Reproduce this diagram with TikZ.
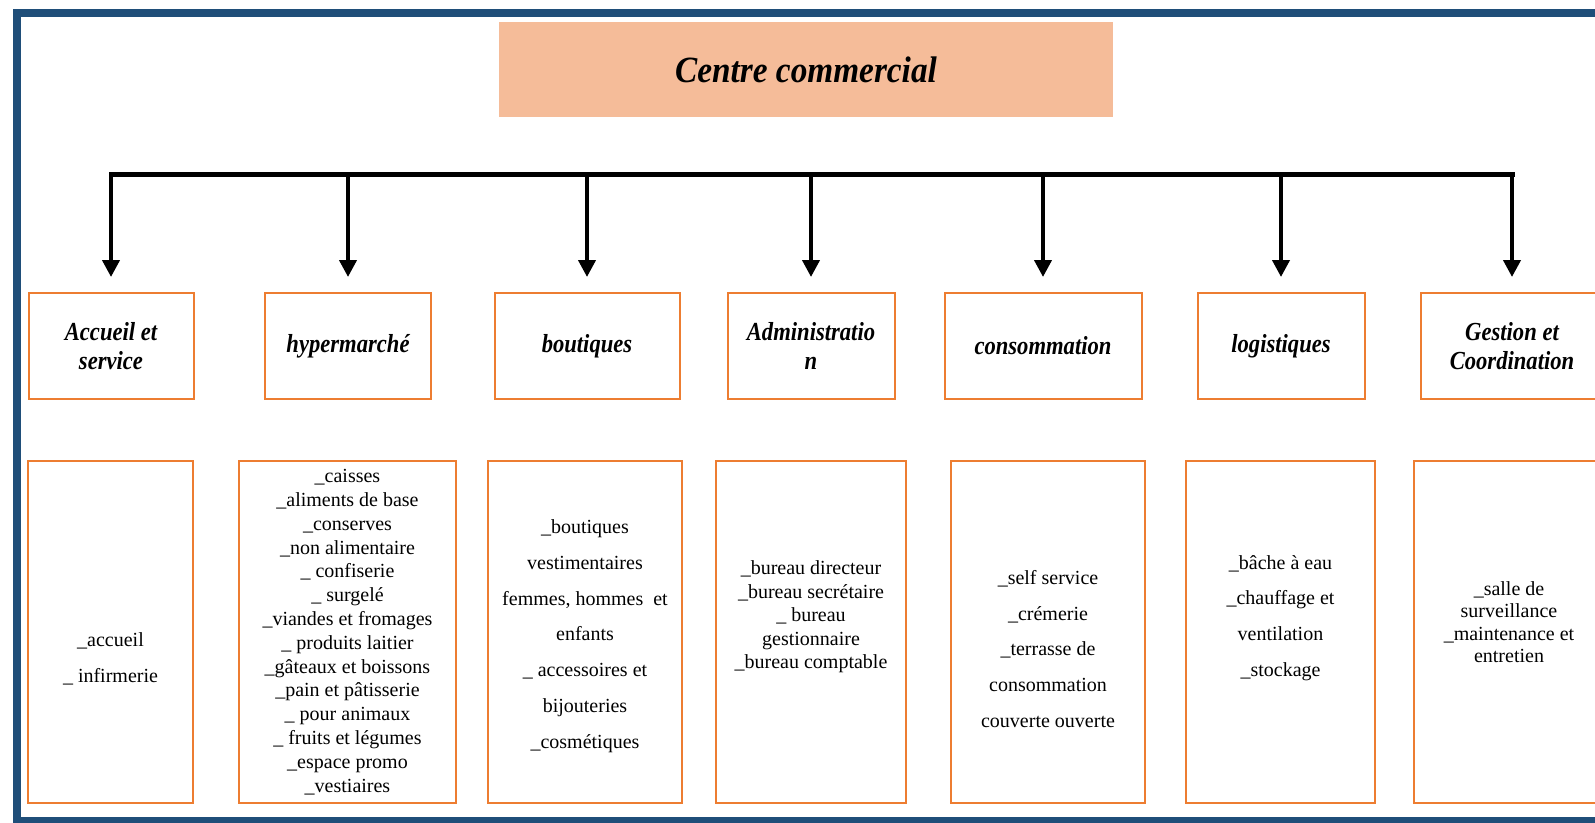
\documentclass[tikz,border=0pt]{standalone}
\usepackage{fontspec}
\setmainfont{Liberation Serif}
\usetikzlibrary{arrows.meta}
\definecolor{cadrebleu}{HTML}{1F4E79}
\definecolor{bordorange}{HTML}{ED7D31}
\definecolor{saumon}{HTML}{F5BC99}

\begin{document}
\begin{tikzpicture}[x=1pt,y=-1pt,
  pole/.style={draw=bordorange,line width=2pt,minimum width=#1,minimum height=106pt,
    inner sep=0pt,align=center,
    font=\fontsize{26}{29}\selectfont\bfseries\itshape\addfontfeature{FakeStretch=0.87}},
  liste/.style={draw=bordorange,line width=2pt,minimum width=#1,minimum height=342pt,inner sep=0pt},
  detail/.style={align=center,inner sep=0pt,font=\fontsize{20}{#1}\selectfont},
  fleche/.style={line width=4pt,shorten >=15pt,-{Triangle[width=17pt,length=17pt]}}]
\useasboundingbox (0,0) rectangle (1595,822);
\clip (0,0) rectangle (1595,822);
% cadre bleu (ouvert a droite)
\draw[cadrebleu,line width=8pt] (1620,13) -- (17,13) -- (17,821) -- (1620,821);
% titre
\node[fill=saumon,minimum width=614pt,minimum height=95pt,inner sep=0pt,
  font=\fontsize{37}{40}\selectfont\bfseries\itshape\addfontfeature{FakeStretch=0.9}]
  (centre) at (806,69.5) {Centre commercial};
% poles
\node[pole=165pt] (acc) at (111,346) {Accueil et\\service};
\node[pole=166pt] (hyp) at (348,346) {hypermarché};
\node[pole=185pt] (bou) at (587,346) {boutiques};
\node[pole=167pt] (adm) at (811,346) {Administratio\\n};
\node[pole=197pt] (con) at (1043,346) {consommation};
\node[pole=167pt] (log) at (1281,346) {logistiques};
\node[pole=182pt] (ges) at (1512,346) {Gestion et\\Coordination};
% barre et fleches
\coordinate (busG) at (111,174);
\coordinate (busD) at (1512,174);
\draw[line width=5pt,line cap=rect] (busG) -- (busD);
\foreach \p in {acc,hyp,bou,adm,con,log,ges}
  \draw[fleche] (busG -| \p.north) -- (\p.north);
% cadres du bas
\node[liste=165pt] (accL) at (110.5,632) {};
\node[liste=217pt] (hypL) at (347.5,632) {};
\node[liste=194pt] (bouL) at (585,632) {};
\node[liste=190pt] (admL) at (811,632) {};
\node[liste=194pt] (conL) at (1048,632) {};
\node[liste=189pt] (logL) at (1280.5,632) {};
\node[liste=196pt] (gesL) at (1512,632) {};
% contenus
\node[detail=36] (accT) at (110.5,659) {\_accueil\\\_ infirmerie};
\node[detail=23.8] (hypT) at (347.5,632) {\_caisses\\\_aliments de base\\\_conserves\\\_non alimentaire\\
  \_ confiserie\\\_ surgelé\\\_viandes et fromages\\\_ produits laitier\\\_gâteaux et boissons\\
  \_pain et pâtisserie\\\_ pour animaux\\\_ fruits et légumes\\\_espace promo\\\_vestiaires};
\node[detail=35.8] (bouT) at (585,636) {\_boutiques\\vestimentaires\\femmes, hommes\ \ et\\enfants\\
  \_ accessoires et\\bijouteries\\\_cosmétiques};
\node[detail=23.5] (admT) at (811,617) {\_bureau directeur\\\_bureau secrétaire\\\_ bureau\\
  gestionnaire\\\_bureau comptable};
\node[detail=35.8] (conT) at (1048,649) {\_self service\\\_crémerie\\\_terrasse de\\consommation\\
  couverte ouverte};
\node[detail=35.7] (logT) at (1280.5,618) {\_bâche à eau\\\_chauffage et\\ventilation\\\_stockage};
\node[detail=22.5] (gesT) at (1509,622) {\_salle de\\surveillance\\\_maintenance et\\entretien};
\end{tikzpicture}
\end{document}
